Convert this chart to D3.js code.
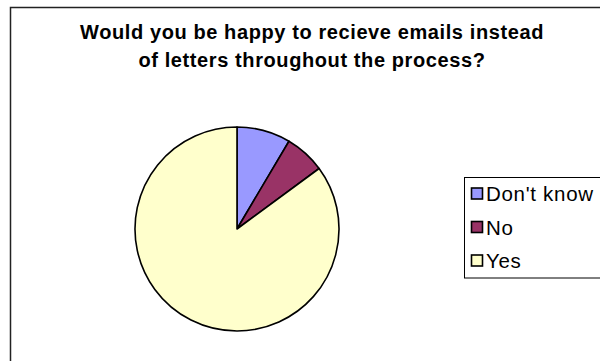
<!DOCTYPE html>
<html>
<head>
<meta charset="utf-8">
<script src="https://cdn.jsdelivr.net/npm/d3@7"></script>
<style>
  html, body { margin: 0; padding: 0; background: #fff; }
  svg { display: block; }
</style>
</head>
<body>
<svg id="chart" width="600" height="361"></svg>
<script>
// Survey answers
const categories = ["Don't know", "No", "Yes"];
const counts = [4, 3, 40];
const colors = ["#9999FF", "#993366", "#FFFFCC"];
const titleLines = ["Would you be happy to recieve emails instead", "of letters throughout the process?"];

const svg = d3.select("#chart");
const font = "Arial, 'Liberation Sans', Helvetica, sans-serif";

// Chart frame
svg.append("rect")
  .attr("x", 10.5).attr("y", 7.5)
  .attr("width", 620).attr("height", 400)
  .attr("fill", "#fff")
  .attr("stroke", "#222").attr("stroke-width", 1.5);

// Title
svg.append("g")
  .selectAll("text")
  .data(titleLines)
  .join("text")
  .attr("x", 312)
  .attr("y", (d, i) => 39 + i * 28)
  .attr("text-anchor", "middle")
  .attr("font-family", font)
  .attr("font-weight", "bold")
  .attr("font-size", 20)
  .attr("letter-spacing", 0.6)
  .attr("fill", "#000")
  .text(d => d);

// Pie
const data = categories.map((c, i) => ({ name: c, value: counts[i], color: colors[i] }));
const pie = d3.pie().value(d => d.value).sort(null).startAngle(0).endAngle(2 * Math.PI);
const arc = d3.arc().innerRadius(0).outerRadius(102);

svg.append("g")
  .attr("transform", "translate(237,229)")
  .selectAll("path")
  .data(pie(data))
  .join("path")
  .attr("d", arc)
  .attr("fill", d => d.data.color)
  .attr("stroke", "#000")
  .attr("stroke-width", 1.6)
  .attr("stroke-linejoin", "round");

// Legend
const legend = svg.append("g").attr("transform", "translate(464,177)");
legend.append("rect")
  .attr("x", 0.5).attr("y", 0.5)
  .attr("width", 160).attr("height", 100.5)
  .attr("fill", "#fff")
  .attr("stroke", "#000").attr("stroke-width", 1);

const rowY = d3.scalePoint().domain(categories).range([16.5, 83.5]);

const items = legend.selectAll("g.item")
  .data(data)
  .join("g")
  .attr("class", "item")
  .attr("transform", d => `translate(0,${rowY(d.name)})`);

items.append("rect")
  .attr("x", 7.5).attr("y", -5.5)
  .attr("width", 11).attr("height", 11)
  .attr("fill", d => d.color)
  .attr("stroke", "#000").attr("stroke-width", 1.6);

items.append("text")
  .attr("x", 22)
  .attr("y", 7.5)
  .attr("font-family", font)
  .attr("font-size", 20.5)
  .attr("letter-spacing", 0.7)
  .attr("fill", "#000")
  .text(d => d.name);
</script>
</body>
</html>
